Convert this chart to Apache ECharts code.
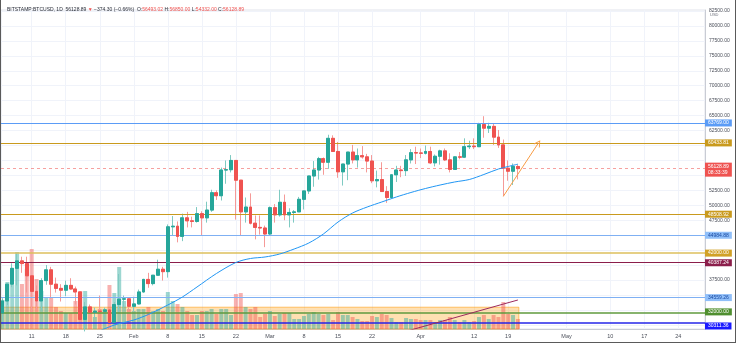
<!DOCTYPE html>
<html>
<head>
<meta charset="utf-8">
<script src="https://cdn.jsdelivr.net/npm/echarts@6/dist/echarts.min.js"></script>
<style>
  html, body { margin: 0; padding: 0; background: #fff; }
  #wrap { position: relative; width: 736px; height: 343px; }
  #chart { width: 736px; height: 343px; }
  #frame { position: absolute; left: 0; top: 0; width: 736px; height: 343px; box-sizing: border-box;
           border-left: 1px solid #5a5a5a; border-right: 1px solid #5a5a5a; border-bottom: 1px solid #5a5a5a;
           pointer-events: none; }
</style>
</head>
<body>
<div id="wrap"><div id="chart"></div><div id="frame"></div></div>
<script>
// BTC/USD daily candles, 5 Jan 2021 .. 21 Apr 2021 (days counted from 1 Jan 2021)
const FIRST_DAY = 4;
const opens = [
  31970, 33990, 36800, 39450, 40700, 40250, 38200, 35600, 34000, 37400, 39200, 36800, 36100, 35800, 36600, 36000, 35500, 30900, 33000, 32100, 32300, 32250, 32500, 30400, 33400, 34300, 34350,
  33100, 33500, 35500, 37600, 36900, 38300, 39300, 38900, 46400, 46500, 44800, 47900, 47400, 47300, 48600, 47900, 49200, 52100, 51600, 55900, 55950, 57500, 54200, 48900, 49700, 47000, 46300, 46200,
  45200, 49600, 48400, 50500, 48400, 48800, 48900, 51000, 52400, 54900, 55900, 57800, 57200, 61200, 59000, 55600, 56900, 58900, 57600, 58300, 58100, 57400, 54100, 54300, 52300, 51300, 55100, 55900, 55800, 57600, 58800,
  58750, 58700, 59000, 57100, 58200, 59100, 57600, 56000, 58100, 58050, 59800, 59900, 59800, 63500, 62900, 63200, 61400, 60100, 56200, 55700, 56493.02
];
const highs = [
  34450, 36900, 40300, 41950, 41400, 41400, 38300, 36600, 37800, 40000, 39700, 37900, 36800, 37400, 37800, 36400, 35600, 33800, 33400, 32900, 34900, 32900, 32600, 33800, 38500, 34900, 34400,
  34700, 35900, 37700, 38700, 38300, 40900, 39700, 46800, 48200, 47300, 48600, 48900, 48100, 49700, 49000, 50600, 52600, 52500, 56300, 57500, 58400, 57500, 54200, 51300, 52000, 48300, 48300, 46600,
  49800, 50200, 52600, 51800, 49500, 49200, 51400, 52400, 54900, 57400, 58100, 58000, 61800, 61700, 60600, 56900, 58900, 60100, 59500, 59900, 58600, 58400, 55800, 57200, 53200, 55100, 56600, 56600, 58400, 59400, 59800,
  59500, 60000, 59800, 58500, 59300, 59500, 58700, 58200, 58900, 61200, 60800, 61200, 63800, 64900, 63800, 63600, 62600, 61000, 57500, 57000, 56850
];
const lows = [
  29900, 33300, 36300, 36600, 38700, 35400, 30400, 32500, 32400, 36700, 34400, 35400, 33900, 34800, 35900, 33400, 30100, 28900, 31400, 31000, 31900, 30900, 29300, 29900, 31900, 32900, 32300,
  32300, 33400, 35400, 36200, 36600, 38200, 37400, 37900, 45000, 43800, 44000, 46300, 46300, 47100, 45000, 47100, 48900, 50900, 50800, 53600, 55500, 47600, 45000, 47100, 46800, 44300, 45100, 43000,
  45000, 47100, 48100, 47500, 46300, 47100, 48900, 49300, 51900, 53100, 54300, 55100, 56100, 59000, 54600, 53300, 54200, 57000, 56300, 57800, 55500, 53700, 53000, 52400, 50400, 51300, 53900, 54700, 54900, 57000, 56900,
  57900, 58500, 56900, 56500, 56800, 57400, 55500, 55900, 57700, 57900, 59400, 59400, 59800, 61300, 62100, 60100, 59600, 51500, 54100, 53400, 54332
];
const closes = [
  33990, 36800, 39450, 40700, 40250, 38200, 35600, 34000, 37400, 39200, 36800, 36100, 35800, 36600, 36000, 35500, 30900, 33000, 32100, 32300, 32250, 32500, 30400, 33400, 34300, 34350, 33100,
  33500, 35500, 37600, 36900, 38300, 39300, 38900, 46400, 46500, 44800, 47900, 47400, 47300, 48600, 47900, 49200, 52100, 51600, 55900, 55950, 57500, 54200, 48900, 49700, 47000, 46300, 46200, 45200,
  49600, 48400, 50500, 48400, 48800, 48900, 51000, 52400, 54900, 55900, 57800, 57200, 61200, 59000, 55600, 56900, 58900, 57600, 58300, 58100, 57400, 54100, 54300, 52300, 51300, 55100, 55900, 55800, 57600, 58800, 58750,
  58700, 59000, 57100, 58200, 59100, 57600, 56000, 58100, 58050, 59800, 59900, 59800, 63500, 62900, 63200, 61400, 60100, 56200, 55700, 56503.19, 56128.89
];
// traded volume, thousand BTC
const volumes = [
  14.5, 23.5, 22, 38.5, 22.5, 30, 40, 25, 19, 16, 16, 11, 9, 8, 8, 14, 19, 19, 8, 6, 10, 10, 22, 18, 31, 14, 10,
  9, 10, 10, 11, 9, 10, 9, 18.5, 14, 12.5, 11, 9, 7, 7, 9, 9, 10, 7.5, 10, 10, 7, 17.5, 18, 11, 10, 11, 6, 7.5,
  9, 6.5, 7.5, 8, 8, 5, 5, 6.5, 7.5, 8.5, 7.5, 7, 7.5, 4.5, 8.5, 7, 7, 6, 5, 4, 4, 6.5, 6, 7.5, 7, 5.5, 3.5, 3.5, 5.5, 5, 5,
  4.5, 4.5, 4.5, 3.5, 4.5, 4.5, 6, 4.5, 3.5, 4.5, 3.5, 4, 6, 7, 5, 7, 6, 13.5, 7.5, 7, 5
];

// 50-day moving average
const maDays   = [23, 27, 31, 34, 38, 41, 44, 48, 52, 55, 58, 61, 64, 67, 70, 73, 76, 79, 82, 85, 88, 91, 94, 97, 100, 103, 106, 108, 110];
const maValues = [28640, 29975, 30810, 31730, 33320, 34660, 36330, 38590, 40430, 41100, 41350, 41850, 42690, 43690, 45200, 47200, 48710, 49710, 50550, 51390, 52140, 52810, 53390, 53900, 54310, 55150, 56070, 56490, 56882.21];

// axes
const X_MIN = 3.69, X_MAX = 148.48;
const P_MIN = 29305, P_MAX = 82667;
const VOL_MAX = 159.5;
const tickDays   = [10, 17, 24, 31, 38, 45, 52, 59, 66, 73, 80, 90, 101, 108, 120, 129, 136, 143];
const tickLabels = ['11', '18', '25', 'Feb', '8', '15', '22', 'Mar', '8', '15', '22', 'Apr', '12', '19', 'May', '10', '17', '24'];
const gridLevels = [30000, 32500, 35000, 37500, 40000, 42500, 45000, 47500, 50000, 52500, 55000, 57500, 60000, 62500, 65000, 67500, 70000, 72500, 75000, 77500, 80000, 82500];
const priceLabels = [37500, 47500, 50000, 52500, 62500, 65000, 67500, 70000, 72500, 75000, 77500, 80000, 82500];

// horizontal levels
const levelPrices = [63769.00, 60433.81, 48508.92, 44984.88, 42000.00, 40387.24, 34559.26, 32000.00, 30311.36];
const levelStyles = [
  { line: '#5b9cf6', w: 1,   bg: '#5b9cf6', fg: '#ffffff', dy: 0 },
  { line: '#c99a1d', w: 1,   bg: '#c99a1d', fg: '#ffffff', dy: 0 },
  { line: '#c99a1d', w: 1,   bg: '#c99a1d', fg: '#ffffff', dy: 0 },
  { line: '#7fb0f3', w: 1,   bg: '#90bff9', fg: '#1848a0', dy: 0 },
  { line: '#dcbf5c', w: 1.5, bg: '#d1a126', fg: '#ffffff', dy: 0 },
  { line: '#8b1e4b', w: 1,   bg: '#8b1e4b', fg: '#ffffff', dy: 0 },
  { line: '#7fb0f3', w: 1,   bg: '#90bff9', fg: '#1848a0', dy: 0 },
  { line: '#5f9a3e', w: 1.5, bg: '#4f8f2f', fg: '#ffffff', dy: -1 },
  { line: '#2424e8', w: 1.5, bg: '#1a1aff', fg: '#ffffff', dy: 3 }
];

// drawings
const trendDays = [86, 110];
const trendPrices = [28690, 34157.39];
const arrowDays = [107, 114.2];
const arrowPrices = [51500, 60400];
const zoneDays = [X_MIN, 110.2];
const zonePrices = [32950, P_MIN];
const zoneTag = 31490;
const lastPrice = 56128.89;
const countdown = '08:33:39';

const UP = '#26a69a', DOWN = '#ef5350';
const FONT = 'Liberation Sans, Arial, sans-serif';

const days = opens.map((_, i) => FIRST_DAY + i);
const fmt = v => v.toFixed(2);

function tag(text, bg, fg, dy) {
  return {
    show: true, position: 'end', distance: 0, formatter: text,
    backgroundColor: bg, color: fg, fontSize: 5, fontFamily: FONT,
    padding: [1, 3, 0, 3], lineHeight: 6, offset: [0, dy || 0]
  };
}

const levelMarks = levelPrices.map((p, i) => ({
  yAxis: p,
  lineStyle: { color: levelStyles[i].line, width: levelStyles[i].w, type: 'solid' },
  label: tag(fmt(p), levelStyles[i].bg, levelStyles[i].fg, levelStyles[i].dy)
}));
// tags that carry no line of their own
levelMarks.push({ yAxis: trendPrices[1], lineStyle: { opacity: 0 }, label: tag(fmt(trendPrices[1]), '#8b1e4b', '#ffffff', 3) });
levelMarks.push({ yAxis: zoneTag, lineStyle: { opacity: 0 }, label: tag(String(zoneTag), '#ff9d4d', '#ffffff', 2) });
levelMarks.push({ yAxis: maValues[maValues.length - 1], lineStyle: { opacity: 0 }, label: tag(fmt(maValues[maValues.length - 1]), '#42a5f5', '#ffffff', -3) });
levelMarks.push({
  yAxis: lastPrice,
  lineStyle: { color: 'rgba(239,83,80,0.55)', width: 1, type: [3, 3] },
  label: Object.assign(tag(fmt(lastPrice) + '\n' + countdown, DOWN, '#ffffff', 1), { padding: [1, 3, 1, 3] })
});

const chart = echarts.init(document.getElementById('chart'), null, { renderer: 'canvas' });

chart.setOption({
  animation: false,
  textStyle: { fontFamily: FONT },
  title: {
    left: 2, top: 2,
    text: '{n|BITSTAMP:BTCUSD, 1D}  {n|' + fmt(lastPrice) + '} {r|▼} {n|−374.30 (−0.66%)}  {n|O:}{r|56493.02} {n|H:}{r|56850.00} {n|L:}{r|54332.00} {n|C:}{r|56128.89}',
    textStyle: {
      fontSize: 5, fontWeight: 'normal',
      rich: {
        n: { fontSize: 5, color: '#2a2e39', fontFamily: FONT },
        r: { fontSize: 5, color: '#ef5350', fontFamily: FONT }
      }
    }
  },
  graphic: [{
    type: 'text', left: 710, top: 13,
    style: { text: 'USD', fontSize: 4, fill: '#6a6d78', fontFamily: FONT }
  }],
  grid: { left: 1, right: 31, top: 10, bottom: 14, show: true, borderColor: '#e0e3eb', borderWidth: 1 },
  xAxis: {
    type: 'value', min: X_MIN, max: X_MAX,
    axisLine: { show: true, lineStyle: { color: '#c9ccd4' } },
    axisTick: { show: false, customValues: tickDays },
    axisLabel: {
      customValues: tickDays, fontSize: 5.5, color: '#4a4e59', margin: 4,
      formatter: v => tickLabels[tickDays.indexOf(Math.round(v))]
    },
    splitLine: { show: true, lineStyle: { color: '#f0f3fa', width: 1 } }
  },
  yAxis: [{
    type: 'value', position: 'right', min: P_MIN, max: P_MAX,
    axisLine: { show: true, lineStyle: { color: '#c9ccd4' } },
    axisTick: { show: false, customValues: gridLevels },
    axisLabel: { customValues: priceLabels, fontSize: 5, color: '#4a4e59', margin: 4, formatter: v => fmt(v) },
    splitLine: { show: true, lineStyle: { color: '#f0f3fa', width: 1 } }
  }, {
    type: 'value', min: 0, max: VOL_MAX, show: false, splitLine: { show: false }
  }],
  series: [
    {
      name: 'Volume', type: 'bar', xAxisIndex: 0, yAxisIndex: 1, barWidth: 4, z: 1,
      data: days.map((d, i) => ({
        value: [d, volumes[i]],
        itemStyle: { color: closes[i] >= opens[i] ? 'rgba(38,166,154,0.45)' : 'rgba(239,83,80,0.45)' }
      }))
    },
    {
      name: 'Zone', type: 'line', data: [], z: 3, silent: true,
      markArea: {
        silent: true,
        itemStyle: { color: 'rgba(255,152,0,0.3)', borderColor: 'rgba(255,152,0,0.55)', borderWidth: 1 },
        data: [[{ coord: [zoneDays[0], zonePrices[0]] }, { coord: [zoneDays[1], zonePrices[1]] }]]
      }
    },
    {
      name: 'Wicks', type: 'candlestick', barWidth: 3.4, z: 4, clip: true,
      encode: { x: 0, y: [1, 2, 3, 4] },
      itemStyle: { color: '#7fcac2', color0: '#f59a98', borderColor: '#7fcac2', borderColor0: '#f59a98', borderWidth: 1 },
      data: days.map((d, i) => [d, opens[i], closes[i], lows[i], highs[i]])
    },
    {
      name: 'BTCUSD', type: 'candlestick', barWidth: 3.4, z: 5, clip: true,
      encode: { x: 0, y: [1, 2, 3, 4] },
      itemStyle: { color: UP, color0: DOWN, borderColor: UP, borderColor0: DOWN, borderWidth: 1 },
      data: days.map((d, i) => [d, opens[i], closes[i], Math.min(opens[i], closes[i]), Math.max(opens[i], closes[i])])
    },
    {
      name: 'MA', type: 'line', z: 6, clip: true, symbol: 'none', smooth: 0.3,
      lineStyle: { color: '#2196f3', width: 1 },
      data: maDays.map((d, i) => [d, maValues[i]])
    },
    {
      name: 'Trend', type: 'line', z: 6, clip: true, symbol: 'none',
      lineStyle: { color: '#9c2b5e', width: 1 },
      data: trendDays.map((d, i) => [d, trendPrices[i]])
    },
    {
      name: 'Levels', type: 'line', data: [], z: 7, clip: false, silent: true,
      markLine: {
        silent: true, symbol: ['none', 'none'], animation: false,
        data: levelMarks
      }
    },
    {
      name: 'Arrow', type: 'line', data: [], z: 8, clip: false, silent: true,
      markLine: {
        silent: true, animation: false,
        symbol: ['none', 'path://M0,0 L6,7 L5,8 L0,2 L-5,8 L-6,7 Z'], symbolSize: [7, 7],
        lineStyle: { color: '#f89c45', width: 1, type: 'solid' },
        label: { show: false },
        data: [[{ coord: [arrowDays[0], arrowPrices[0]] }, { coord: [arrowDays[1], arrowPrices[1]] }]]
      }
    }
  ]
});
</script>
</body>
</html>
